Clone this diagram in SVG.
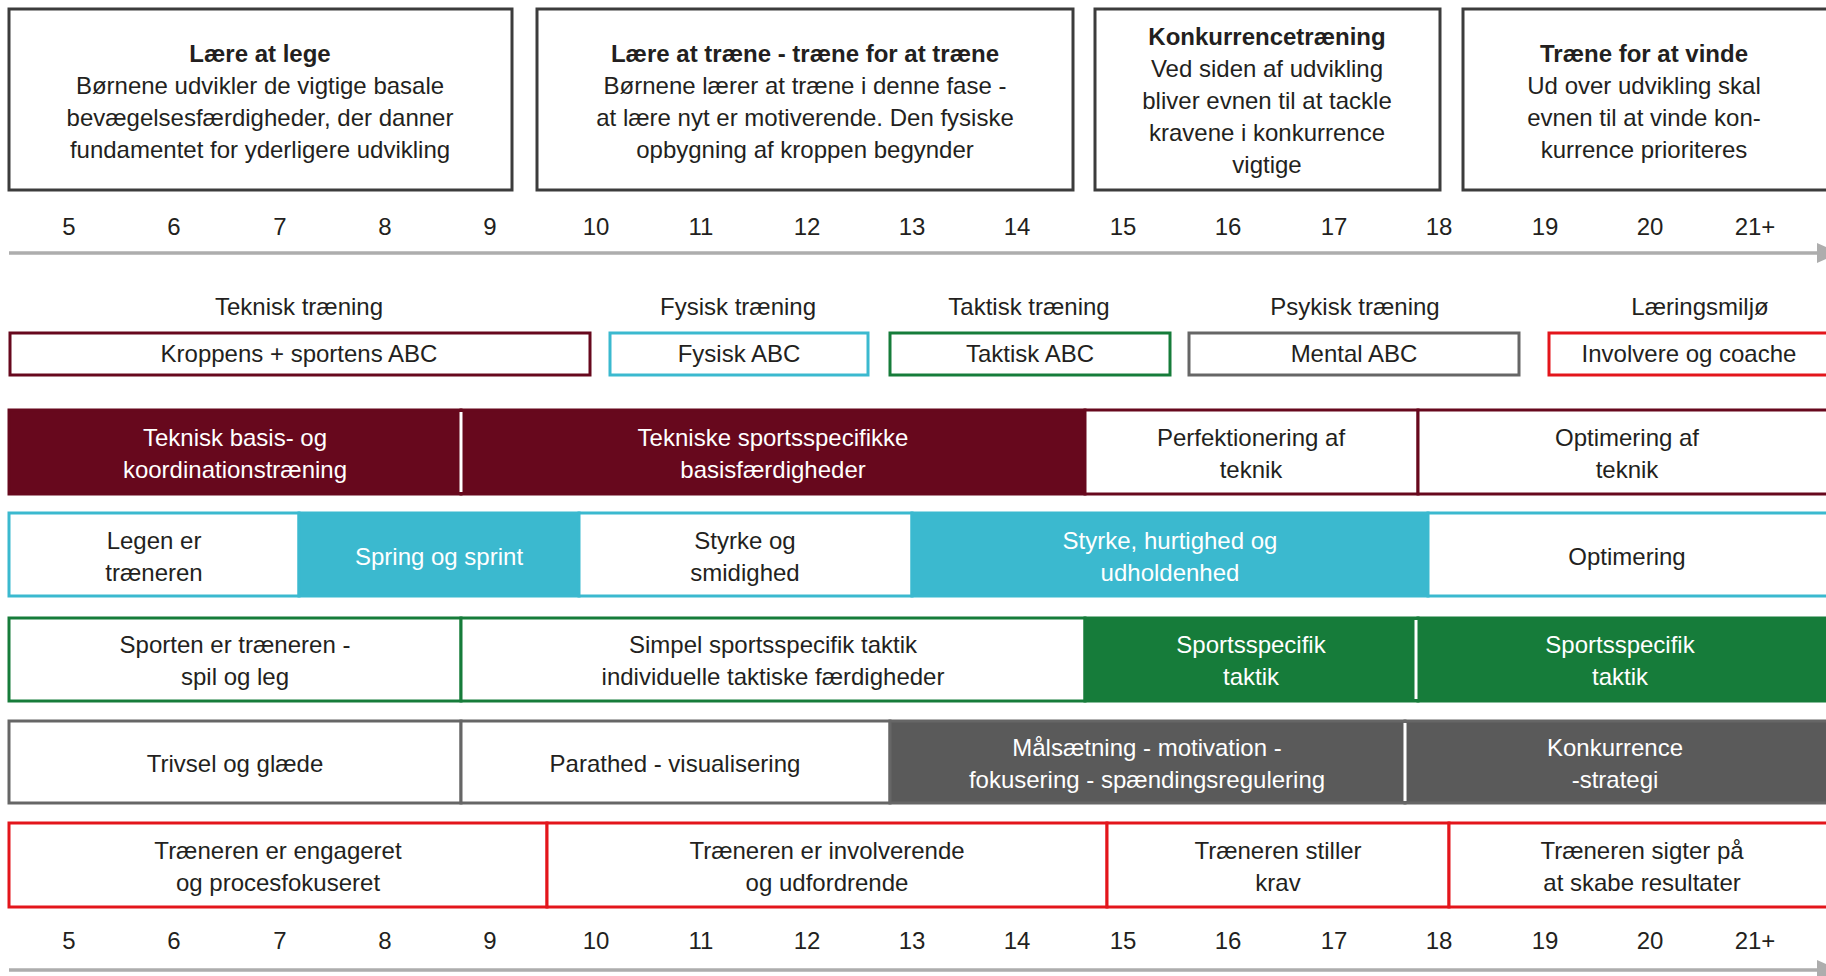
<svg xmlns="http://www.w3.org/2000/svg" width="1826" height="976" viewBox="0 0 1826 976">
<defs>
<style>
text{font-family:"Liberation Sans",Arial,sans-serif;font-size:24px;fill:#231f20;text-anchor:middle}
.b{font-weight:bold}
.w{fill:#ffffff}
.top{fill:#fff;stroke:#3c3c3c;stroke-width:3}
.axis{stroke:#adadad;stroke-width:3.5;fill:none}
.head{fill:#adadad}
.mr{stroke:#67081d;stroke-width:3}
.cy{stroke:#3bb9cf;stroke-width:3}
.gr{stroke:#167c3a;stroke-width:3}
.gy{stroke:#666666;stroke-width:3}
.rd{stroke:#e3151b;stroke-width:3}
.fw{fill:#ffffff}
.fmr{fill:#67081d}
.fcy{fill:#3bb9cf}
.fgr{fill:#167c3a}
.fgy{fill:#5a5a5a}
.sep{stroke:#ffffff;stroke-width:3}
</style>
</defs>
<rect width="1826" height="976" fill="#ffffff"/>

<g id="connectors">
<line class="axis" x1="9" y1="253" x2="1820" y2="253"/>
<polygon class="head" points="1817,243 1839,253 1817,263"/>
<line class="axis" x1="9" y1="970" x2="1820" y2="970"/>
<polygon class="head" points="1817,960 1839,970 1817,980"/>
</g>

<g id="phase-1">
<rect class="top" x="9" y="9" width="503" height="181"/>
<text class="b" x="260" y="62">Lære at lege</text>
<text x="260" y="94">Børnene udvikler de vigtige basale</text>
<text x="260" y="126">bevægelsesfærdigheder, der danner</text>
<text x="260" y="158">fundamentet for yderligere udvikling</text>
</g>
<g id="phase-2">
<rect class="top" x="537" y="9" width="536" height="181"/>
<text class="b" x="805" y="62">Lære at træne - træne for at træne</text>
<text x="805" y="94">Børnene lærer at træne i denne fase -</text>
<text x="805" y="126">at lære nyt er motiverende. Den fysiske</text>
<text x="805" y="158">opbygning af kroppen begynder</text>
</g>
<g id="phase-3">
<rect class="top" x="1095" y="9" width="345" height="181"/>
<text class="b" x="1267" y="45">Konkurrencetræning</text>
<text x="1267" y="77">Ved siden af udvikling</text>
<text x="1267" y="109">bliver evnen til at tackle</text>
<text x="1267" y="141">kravene i konkurrence</text>
<text x="1267" y="173">vigtige</text>
</g>
<g id="phase-4">
<rect class="top" x="1463" y="9" width="372" height="181"/>
<text class="b" x="1644" y="62">Træne for at vinde</text>
<text x="1644" y="94">Ud over udvikling skal</text>
<text x="1644" y="126">evnen til at vinde kon-</text>
<text x="1644" y="158">kurrence prioriteres</text>
</g>

<g id="ages-top">
<text x="69" y="235">5</text><text x="174" y="235">6</text><text x="280" y="235">7</text><text x="385" y="235">8</text><text x="490" y="235">9</text><text x="596" y="235">10</text><text x="701" y="235">11</text><text x="807" y="235">12</text><text x="912" y="235">13</text><text x="1017" y="235">14</text><text x="1123" y="235">15</text><text x="1228" y="235">16</text><text x="1334" y="235">17</text><text x="1439" y="235">18</text><text x="1545" y="235">19</text><text x="1650" y="235">20</text><text x="1755" y="235">21+</text>
</g>

<g id="cat-teknisk">
<text x="299" y="315">Teknisk træning</text>
<rect class="fw mr" x="10" y="333" width="580" height="42"/>
<text x="299" y="362">Kroppens + sportens ABC</text>
</g>
<g id="cat-fysisk">
<text x="738" y="315">Fysisk træning</text>
<rect class="fw cy" x="610" y="333" width="258" height="42"/>
<text x="739" y="362">Fysisk ABC</text>
</g>
<g id="cat-taktisk">
<text x="1029" y="315">Taktisk træning</text>
<rect class="fw gr" x="890" y="333" width="280" height="42"/>
<text x="1030" y="362">Taktisk ABC</text>
</g>
<g id="cat-psykisk">
<text x="1355" y="315">Psykisk træning</text>
<rect class="fw gy" x="1189" y="333" width="330" height="42"/>
<text x="1354" y="362">Mental ABC</text>
</g>
<g id="cat-laering">
<text x="1700" y="315">Læringsmiljø</text>
<rect class="fw rd" x="1549" y="333" width="290" height="42"/>
<text x="1689" y="362">Involvere og coache</text>
</g>

<g id="row-teknisk">
<rect class="fmr mr" x="9" y="410" width="452" height="84"/>
<rect class="fmr mr" x="461" y="410" width="624" height="84"/>
<line class="sep" x1="461" y1="412" x2="461" y2="492"/>
<rect class="fw mr" x="1085" y="410" width="333" height="84"/>
<rect class="fw mr" x="1418" y="410" width="420" height="84"/>
<text class="w" x="235" y="446">Teknisk basis- og</text>
<text class="w" x="235" y="478">koordinationstræning</text>
<text class="w" x="773" y="446">Tekniske sportsspecifikke</text>
<text class="w" x="773" y="478">basisfærdigheder</text>
<text x="1251" y="446">Perfektionering af</text>
<text x="1251" y="478">teknik</text>
<text x="1627" y="446">Optimering af</text>
<text x="1627" y="478">teknik</text>
</g>

<g id="row-fysisk">
<rect class="fw cy" x="9" y="513" width="290" height="83"/>
<rect class="fcy cy" x="299" y="513" width="280" height="83"/>
<rect class="fw cy" x="579" y="513" width="333" height="83"/>
<rect class="fcy cy" x="912" y="513" width="516" height="83"/>
<rect class="fw cy" x="1428" y="513" width="410" height="83"/>
<text x="154" y="549">Legen er</text>
<text x="154" y="581">træneren</text>
<text class="w" x="439" y="565">Spring og sprint</text>
<text x="745" y="549">Styrke og</text>
<text x="745" y="581">smidighed</text>
<text class="w" x="1170" y="549">Styrke, hurtighed og</text>
<text class="w" x="1170" y="581">udholdenhed</text>
<text x="1627" y="565">Optimering</text>
</g>

<g id="row-taktisk">
<rect class="fw gr" x="9" y="618" width="452" height="83"/>
<rect class="fw gr" x="461" y="618" width="624" height="83"/>
<rect class="fgr gr" x="1085" y="618" width="333" height="83"/>
<rect class="fgr gr" x="1418" y="618" width="420" height="83"/>
<line class="sep" x1="1416" y1="620" x2="1416" y2="699"/>
<text x="235" y="653">Sporten er træneren -</text>
<text x="235" y="685">spil og leg</text>
<text x="773" y="653">Simpel sportsspecifik taktik</text>
<text x="773" y="685">individuelle taktiske færdigheder</text>
<text class="w" x="1251" y="653">Sportsspecifik</text>
<text class="w" x="1251" y="685">taktik</text>
<text class="w" x="1620" y="653">Sportsspecifik</text>
<text class="w" x="1620" y="685">taktik</text>
</g>

<g id="row-psykisk">
<rect class="fw gy" x="9" y="721" width="452" height="82"/>
<rect class="fw gy" x="461" y="721" width="429" height="82"/>
<rect class="fgy gy" x="890" y="721" width="515" height="82"/>
<rect class="fgy gy" x="1405" y="721" width="433" height="82"/>
<line class="sep" x1="1405" y1="723" x2="1405" y2="801"/>
<text x="235" y="772">Trivsel og glæde</text>
<text x="675" y="772">Parathed - visualisering</text>
<text class="w" x="1147" y="756">Målsætning - motivation -</text>
<text class="w" x="1147" y="788">fokusering - spændingsregulering</text>
<text class="w" x="1615" y="756">Konkurrence</text>
<text class="w" x="1615" y="788">-strategi</text>
</g>

<g id="row-laering">
<rect class="fw rd" x="9" y="823" width="538" height="84"/>
<rect class="fw rd" x="547" y="823" width="560" height="84"/>
<rect class="fw rd" x="1107" y="823" width="342" height="84"/>
<rect class="fw rd" x="1449" y="823" width="389" height="84"/>
<text x="278" y="859">Træneren er engageret</text>
<text x="278" y="891">og procesfokuseret</text>
<text x="827" y="859">Træneren er involverende</text>
<text x="827" y="891">og udfordrende</text>
<text x="1278" y="859">Træneren stiller</text>
<text x="1278" y="891">krav</text>
<text x="1642" y="859">Træneren sigter på</text>
<text x="1642" y="891">at skabe resultater</text>
</g>

<g id="ages-bottom">
<text x="69" y="949">5</text><text x="174" y="949">6</text><text x="280" y="949">7</text><text x="385" y="949">8</text><text x="490" y="949">9</text><text x="596" y="949">10</text><text x="701" y="949">11</text><text x="807" y="949">12</text><text x="912" y="949">13</text><text x="1017" y="949">14</text><text x="1123" y="949">15</text><text x="1228" y="949">16</text><text x="1334" y="949">17</text><text x="1439" y="949">18</text><text x="1545" y="949">19</text><text x="1650" y="949">20</text><text x="1755" y="949">21+</text>
</g>
</svg>
